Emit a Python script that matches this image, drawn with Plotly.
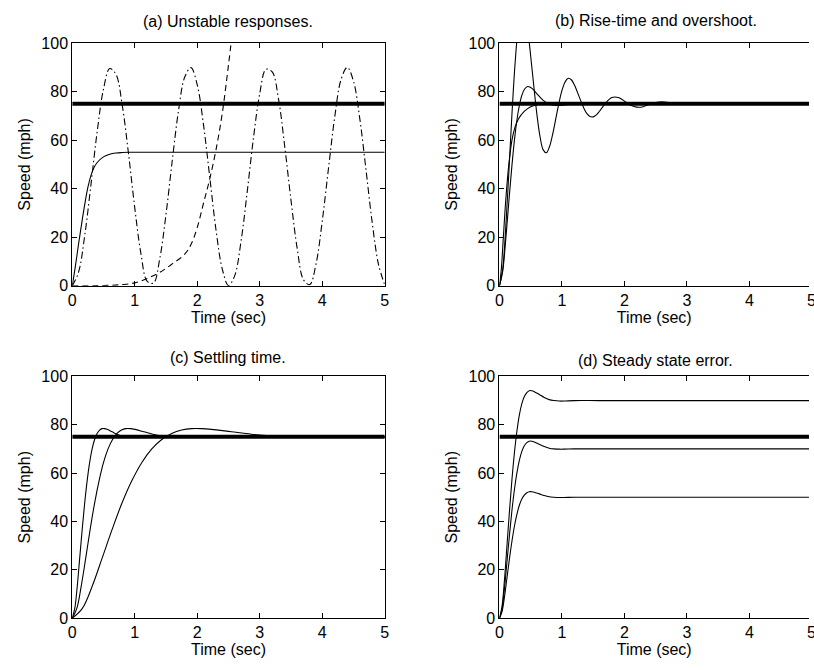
import plotly.graph_objects as go

FONT = "Liberation Sans, Arial, Helvetica, sans-serif"
FS = 16

# ---------------- data ----------------
x_ticks = [0, 1, 2, 3, 4, 5]
y_ticks = [0, 20, 40, 60, 80, 100]
ref_t = [0, 5]
ref_speed = [75, 75]

titles = ["(a) Unstable responses.", "(b) Rise-time and overshoot.",
          "(c) Settling time.", "(d) Steady state error."]

# (a) unstable responses
a_solid_t = [0, 0.05, 0.1, 0.15, 0.2, 0.25, 0.3, 0.35, 0.4, 0.5, 0.6, 0.7, 0.8, 0.9, 1.0, 2.0, 5.0]
a_solid_y = [0, 8, 17, 25.5, 33.5, 40.5, 45.5, 48.8, 50.8, 53.1, 54.2, 54.7, 54.9, 55, 55, 55, 55]

a_dash_t = [0, 0.5, 0.8, 1.0, 1.2, 1.4, 1.6, 1.8, 1.9, 2.0, 2.1, 2.2, 2.3, 2.4, 2.5, 2.56]
a_dash_y = [0, 0.1, 0.5, 1.2, 3, 5.5, 9, 13, 17, 24, 34, 44, 56, 71, 91, 104]

a_dashdot_t = [round(0.1 * i, 1) for i in range(51)]
a_dashdot_y = [0, 5.5, 20.7, 41.8, 63.7, 81.0, 89.5, 87.1, 74.4, 54.5,
               32.2, 13.1, 1.8, 1.1, 11.1, 29.4, 51.5, 72.1, 86.0, 89.9,
               82.8, 66.4, 44.8, 23.1, 7.0, 0.1, 4.2, 18.2, 38.8, 61.0,
               79.2, 89.2, 88.1, 77.0, 57.4, 35.3, 15.3, 2.5, 0.5, 8.9,
               26.6, 48.4, 69.6, 84.9, 90.0, 84.3, 69.0, 47.8, 25.9, 8.8, 0.4]

# (b) rise-time and overshoot
b1_t = [0, 0.05, 0.1, 0.15, 0.2, 0.25, 0.3, 0.35, 0.4, 0.45, 0.5, 0.55, 0.6, 0.65, 0.7,
        0.75, 0.8, 0.85, 0.9, 0.95, 1.0, 1.05, 1.1, 1.15, 1.2, 1.25, 1.3, 1.35, 1.4,
        1.45, 1.5, 1.55, 1.6, 1.65, 1.7, 1.75, 1.8, 1.85, 1.9, 1.95, 2.0, 2.1, 2.2,
        2.3, 2.4, 2.5, 2.6, 2.7, 2.8, 2.9, 3.0, 3.5, 5.0]
b1_y = [0, 6.5, 23.7, 46.7, 70.8, 91.7, 106.4, 113.3, 112.7, 105.8, 94.6, 82.1, 70.4,
        61.3, 56.0, 54.8, 57.3, 62.3, 68.7, 75.1, 80.5, 84.0, 85.5, 84.9, 82.7, 79.6,
        76.3, 73.2, 70.9, 69.7, 69.6, 70.4, 71.9, 73.6, 75.3, 76.7, 77.6, 77.8, 77.6,
        77.0, 76.1, 74.4, 73.6, 73.8, 74.7, 75.5, 75.8, 75.5, 75.0, 74.7, 74.8, 75.0, 75.0]

b2_t = [0, 0.05, 0.1, 0.15, 0.2, 0.25, 0.3, 0.35, 0.4, 0.45, 0.5, 0.55, 0.6, 0.7, 0.8,
        0.9, 1.0, 1.2, 1.5, 2.5, 5.0]
b2_y = [0, 5.7, 18.9, 34.6, 49.7, 62.4, 71.7, 77.8, 81.0, 82.1, 81.7, 80.6, 79.1, 76.4,
        74.8, 74.3, 74.4, 74.9, 75.0, 75.0, 75.0]

b3_t = [0, 0.03, 0.06, 0.1, 0.15, 0.2, 0.25, 0.3, 0.35, 0.4, 0.5, 0.6, 0.7, 0.8, 1.0, 2.0, 5.0]
b3_y = [0, 7, 19, 35, 50, 60, 65.5, 68.5, 70.5, 72, 73.8, 74.6, 74.9, 75, 75, 75, 75]

# (c) settling time (same shape, three different speeds)
c_y = [0, 3.9, 13.1, 24.7, 36.6, 47.6, 56.9, 64.4, 70.0, 73.9, 76.4, 77.8, 78.4, 78.4,
       78.1, 77.1, 76.1, 75.4, 75.0, 74.9, 74.9, 75.0, 75.0]
c_fast_t = [0, 0.040, 0.080, 0.119, 0.159, 0.199, 0.239, 0.279, 0.318, 0.358, 0.398,
            0.438, 0.477, 0.517, 0.557, 0.637, 0.716, 0.796, 0.875, 0.955, 1.035, 1.194, 5.0]
c_mid_t = [0, 0.072, 0.143, 0.215, 0.286, 0.358, 0.430, 0.501, 0.573, 0.645, 0.716,
           0.788, 0.859, 0.931, 1.003, 1.146, 1.289, 1.432, 1.576, 1.719, 1.862, 2.149, 5.0]
c_slow_t = [0, 0.159, 0.318, 0.477, 0.637, 0.796, 0.955, 1.114, 1.273, 1.432, 1.592,
            1.751, 1.910, 2.069, 2.228, 2.546, 2.865, 3.183, 3.501, 3.820, 4.138, 4.775, 5.0]

# (d) steady state error
d_t = [0, 0.040, 0.080, 0.119, 0.159, 0.199, 0.239, 0.279, 0.318, 0.358, 0.398,
       0.438, 0.477, 0.517, 0.557, 0.637, 0.716, 0.796, 0.875, 0.955, 1.035, 1.194,
       1.6, 2.5, 5.0]
d_high = [0, 4.7, 15.7, 29.6, 43.9, 57.1, 68.3, 77.3, 84.0, 88.7, 91.7, 93.3, 94.1,
          94.1, 93.7, 92.5, 91.3, 90.4, 90.0, 89.8, 89.8, 90.0, 90.0, 90.0, 90.0]
d_mid = [0, 3.6, 12.2, 23.0, 34.1, 44.4, 53.1, 60.1, 65.3, 69.0, 71.3, 72.6, 73.2,
         73.2, 72.9, 71.9, 71.0, 70.3, 70.0, 69.9, 69.9, 70.0, 70.0, 70.0, 70.0]
d_low = [0, 2.6, 8.7, 16.4, 24.4, 31.7, 38.0, 42.9, 46.7, 49.3, 50.9, 51.9, 52.3,
         52.3, 52.1, 51.4, 50.7, 50.2, 50.0, 49.9, 49.9, 50.0, 50.0, 50.0, 50.0]

# ---------------- figure ----------------
W, H = 814, 670
fig = go.Figure()

def line(x, y, ax, dash="solid", width=1.1, shape="spline"):
    fig.add_trace(go.Scatter(
        x=x, y=y, mode="lines", xaxis="x" + ax, yaxis="y" + ax,
        line=dict(color="black", width=width, dash=dash, shape=shape,
                  smoothing=1.0 if shape == "spline" else None),
        showlegend=False, hoverinfo="skip"))

DASH = "6px,4px"
DASHDOT = "7px,3px,1.5px,3px"

for ax in ["", "2", "3", "4"]:
    line(ref_t, ref_speed, ax, width=4, shape="linear")

line(a_solid_t, a_solid_y, "")
line(a_dash_t, a_dash_y, "", dash=DASH)
line(a_dashdot_t, a_dashdot_y, "", dash=DASHDOT)

line(b1_t, b1_y, "2")
line(b2_t, b2_y, "2")
line(b3_t, b3_y, "2")

line(c_fast_t, c_y, "3")
line(c_mid_t, c_y, "3")
line(c_slow_t, c_y, "3")

line(d_t, d_high, "4")
line(d_t, d_mid, "4")
line(d_t, d_low, "4")

# pixel geometry
LX = (69, 385)
RX = (501, 817)
TY = (36, 285)
BY = (378, 626)

def xdom(px):
    return [px[0] / W, min(1.0, px[1] / W)]

def ydom(py):
    return [1 - py[1] / H, 1 - py[0] / H]

def xrange_for(px):
    scale = (px[1] - px[0]) / 5.0
    right = min(px[1], W)
    return [0, (right - px[0]) / scale]

tickfont = dict(family=FONT, size=FS, color="black")

def xaxis(px, anchor, mirror):
    return dict(domain=xdom(px), range=xrange_for(px), anchor=anchor,
                tickmode="array", tickvals=x_ticks, ticktext=[str(v) for v in x_ticks],
                ticks="inside", ticklen=5, tickwidth=1, tickcolor="black",
                showline=True, linecolor="black", linewidth=1, mirror=mirror,
                showgrid=False, zeroline=False, tickfont=tickfont,
                title=dict(text="Time (sec)", font=tickfont, standoff=2))

def yaxis(py, anchor, mirror):
    return dict(domain=ydom(py), range=[0, 100], anchor=anchor,
                tickmode="array", tickvals=y_ticks, ticktext=[str(v) for v in y_ticks],
                ticks="inside", ticklen=5, tickwidth=1, tickcolor="black",
                showline=True, linecolor="black", linewidth=1, mirror=mirror,
                showgrid=False, zeroline=False, tickfont=tickfont,
                title=dict(text="Speed (mph)", font=tickfont, standoff=6))

fig.update_layout(
    width=W, height=H, autosize=False,
    margin=dict(l=0, r=0, t=0, b=0, pad=0),
    paper_bgcolor="white", plot_bgcolor="white",
    font=dict(family=FONT, size=FS, color="black"),
    xaxis=xaxis(LX, "y", "ticks"),
    yaxis=yaxis(TY, "x", "ticks"),
    xaxis2=xaxis(RX, "y2", "ticks"),
    yaxis2=yaxis(TY, "x2", False),
    xaxis3=xaxis(LX, "y3", "ticks"),
    yaxis3=yaxis(BY, "x3", "ticks"),
    xaxis4=xaxis(RX, "y4", "ticks"),
    yaxis4=yaxis(BY, "x4", False),
)

# subplot titles
panels = [(LX, TY, 11), (RX, TY, 12), (LX, BY, 8), (RX, BY, 5)]
for (px, py, ys), ttl in zip(panels, titles):
    cx = (px[0] + px[1]) / 2 / W
    fig.add_annotation(text=ttl, x=cx, y=1 - py[0] / H, xref="paper", yref="paper",
                       xanchor="center", yanchor="bottom", yshift=ys, showarrow=False,
                       font=dict(family=FONT, size=FS, color="black"))

# the partially visible "5" tick label of the right-hand panels
for py in (TY, BY):
    fig.add_annotation(text="5", x=RX[1] / W, y=1 - py[1] / H, xref="paper", yref="paper",
                       xanchor="center", yanchor="top", yshift=-4, showarrow=False,
                       font=dict(family=FONT, size=FS, color="black"))

fig.write_html("out.html",
               config={"displayModeBar": False, "staticPlot": True},
               post_script="document.body.style.margin='0px';"
                           "document.body.style.overflow='hidden';")
